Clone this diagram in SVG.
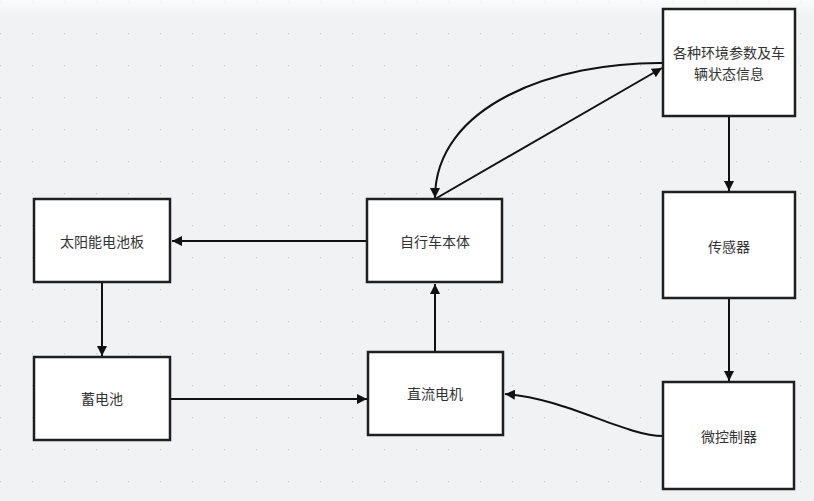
<svg xmlns="http://www.w3.org/2000/svg" width="814" height="501" viewBox="0 0 814 501">
<style>
.box{fill:#ffffff;stroke:#1f1f1f;stroke-width:2.5}
.lbl{font-family:"Noto Sans CJK SC","Noto Sans",sans-serif;font-size:14px;fill:#333333;text-anchor:middle;dominant-baseline:central}
.edge{fill:none;stroke:#111111;stroke-width:2}
</style>
<defs>
<pattern id="dots" x="0" y="1" width="32" height="32" patternUnits="userSpaceOnUse">
<rect x="0" y="0" width="1.2" height="1.2" fill="#c9cacf"/>
</pattern>
<linearGradient id="topfade" x1="0" y1="0" x2="0" y2="1">
<stop offset="0" stop-color="#ffffff" stop-opacity="0.8"/>
<stop offset="1" stop-color="#ffffff" stop-opacity="0"/>
</linearGradient>
<marker id="arr" viewBox="0 0 10 10" refX="10" refY="5" markerWidth="5" markerHeight="5" orient="auto" markerUnits="strokeWidth">
<path d="M0,0 L10,5 L0,10 Z" fill="#111111"/>
</marker>
</defs>
<rect width="814" height="501" fill="#f1f2f4"/>
<rect width="814" height="501" fill="url(#dots)"/>
<rect width="814" height="16" fill="url(#topfade)"/>

<g id="connectors">
<path class="edge" d="M367,241 L172,241" marker-end="url(#arr)"/>
<path class="edge" d="M102,282 L102,356" marker-end="url(#arr)"/>
<path class="edge" d="M170,399 L367,399" marker-end="url(#arr)"/>
<path class="edge" d="M435,352 L435,284" marker-end="url(#arr)"/>
<path class="edge" d="M729,116 L729,191" marker-end="url(#arr)"/>
<path class="edge" d="M729,298 L729,381" marker-end="url(#arr)"/>
<path class="edge" d="M663,436 C625,436 565,398 505,394" marker-end="url(#arr)"/>
<path class="edge" d="M663,63 C555,62 435,105 435,198" marker-end="url(#arr)"/>
<path class="edge" d="M435,199 L662,68" marker-end="url(#arr)"/>
</g>

<g id="env">
<rect class="box" x="663" y="9" width="132" height="107"/>
<text class="lbl" x="729" y="52">各种环境参数及车</text>
<text class="lbl" x="729" y="73">辆状态信息</text>
</g>
<g id="sensor">
<rect class="box" x="663" y="192" width="132" height="106"/>
<text class="lbl" x="729" y="246">传感器</text>
</g>
<g id="mcu">
<rect class="box" x="663" y="382" width="131" height="107"/>
<text class="lbl" x="729" y="436">微控制器</text>
</g>
<g id="bike">
<rect class="box" x="367" y="199" width="135" height="83"/>
<text class="lbl" x="435" y="241">自行车本体</text>
</g>
<g id="solar">
<rect class="box" x="34" y="199" width="136" height="83"/>
<text class="lbl" x="102" y="241">太阳能电池板</text>
</g>
<g id="battery">
<rect class="box" x="34" y="357" width="136" height="83"/>
<text class="lbl" x="102" y="398">蓄电池</text>
</g>
<g id="motor">
<rect class="box" x="368" y="352" width="135" height="83"/>
<text class="lbl" x="435" y="393">直流电机</text>
</g>
</svg>
